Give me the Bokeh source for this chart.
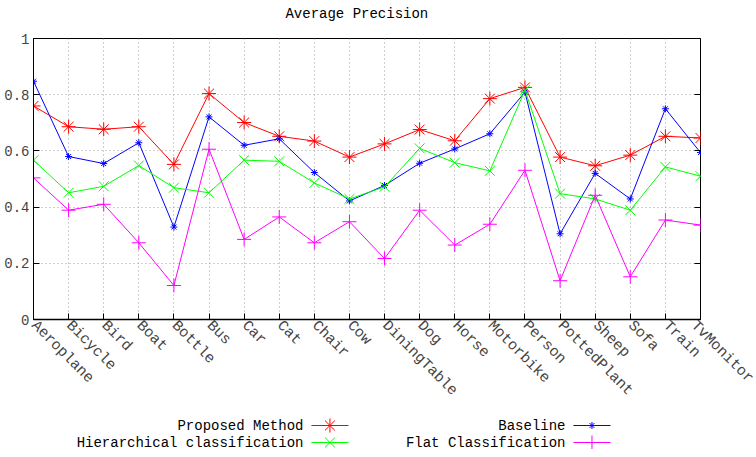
import math
from bokeh.plotting import figure
from bokeh.models import Range1d, FixedTicker, LinearAxis
from bokeh.layouts import column
from bokeh.core.properties import value
from bokeh.embed import file_html
from bokeh.resources import INLINE

categories = ["Aeroplane", "Bicycle", "Bird", "Boat", "Bottle", "Bus", "Car", "Cat",
              "Chair", "Cow", "DiningTable", "Dog", "Horse", "Motorbike", "Person",
              "PottedPlant", "Sheep", "Sofa", "Train", "TvMonitor"]
proposed = [0.760, 0.686, 0.677, 0.686, 0.552, 0.804, 0.701, 0.652, 0.635, 0.578,
            0.625, 0.676, 0.636, 0.786, 0.826, 0.578, 0.547, 0.585, 0.652, 0.646]
baseline = [0.848, 0.580, 0.555, 0.629, 0.329, 0.721, 0.620, 0.643, 0.523, 0.422,
            0.477, 0.556, 0.607, 0.661, 0.809, 0.305, 0.520, 0.429, 0.750, 0.594]
hierarchical = [0.567, 0.451, 0.474, 0.548, 0.469, 0.451, 0.567, 0.563, 0.486, 0.429,
                0.472, 0.609, 0.558, 0.529, 0.816, 0.448, 0.429, 0.389, 0.543, 0.510]
flat = [0.504, 0.389, 0.410, 0.273, 0.121, 0.606, 0.285, 0.365, 0.273, 0.348,
        0.217, 0.389, 0.265, 0.339, 0.531, 0.138, 0.442, 0.152, 0.354, 0.336]
y_ticks = [0, 0.2, 0.4, 0.6, 0.8, 1]
y_tick_labels = ["0", "0.2", "0.4", "0.6", "0.8", "1"]
title_text = "Average Precision"

FONT = "Liberation Mono"
xs = list(range(len(categories)))
W = 756
FRAME_L, FRAME_R = 33, 700

series = [
    ("Proposed Method", proposed, "#ff0000", "asterisk", 14),
    ("Baseline", baseline, "#0000ff", "asterisk", 7),
    ("Hierarchical classification", hierarchical, "#00ff00", "x", 14),
    ("Flat Classification", flat, "#ff00ff", "cross", 14),
]

# title panel
tfig = figure(width=W, height=28, output_backend="svg", toolbar_location=None,
              x_range=Range1d(0, W), y_range=Range1d(28, 0),
              min_border=0, outline_line_color=None)
tfig.axis.visible = False
tfig.grid.visible = False
tfig.text([(FRAME_L + FRAME_R) / 2], [13], text=[title_text], text_align="center",
          text_baseline="middle", text_font=value(FONT), text_font_size="14px",
          text_color="black")

p = figure(width=W, height=382, output_backend="svg", toolbar_location=None,
           x_range=Range1d(0, len(categories) - 1), y_range=Range1d(0, 1),
           min_border_left=FRAME_L, min_border_right=W - FRAME_R, min_border_top=10,
           min_border_bottom=91)

p.outline_line_color = "black"
p.outline_line_width = 1

p.xaxis.ticker = FixedTicker(ticks=xs)
p.xaxis.major_label_overrides = {i: c for i, c in enumerate(categories)}
p.xaxis.major_label_orientation = -math.pi / 4
p.xaxis.major_label_text_font = FONT
p.xaxis.major_label_text_font_size = "15px"
p.xaxis.major_tick_in = 6
p.xaxis.major_tick_out = 0
p.xaxis.minor_tick_line_color = None
p.xaxis.major_label_standoff = 4
p.xaxis.axis_line_width = 1.5

p.yaxis.ticker = FixedTicker(ticks=y_ticks)
p.yaxis.major_label_overrides = {t: l for t, l in zip(y_ticks, y_tick_labels)}
p.yaxis.major_label_text_font = FONT
p.yaxis.major_label_text_font_size = "14px"
p.yaxis.major_tick_in = 6
p.yaxis.major_tick_out = 0
p.yaxis.minor_tick_line_color = None
p.yaxis.major_label_standoff = 4

ry = LinearAxis(ticker=FixedTicker(ticks=y_ticks), major_tick_in=6, major_tick_out=0,
                minor_tick_line_color=None, axis_line_color=None,
                major_label_text_alpha=0, major_label_text_font_size="1px")
p.add_layout(ry, "right")

for g in (p.xgrid, p.ygrid):
    g.grid_line_color = "#a0a0a0"
    g.grid_line_dash = "1 3"
    g.grid_line_width = 1
p.xgrid.ticker = FixedTicker(ticks=xs)
p.ygrid.ticker = FixedTicker(ticks=y_ticks)

for name, vals, color, marker, size in series:
    p.line(xs, vals, line_color=color, line_width=1)
    p.scatter(xs, vals, marker=marker, size=size, line_color=color, line_width=1,
              fill_color=color)

# legend panel (gnuplot style: text right-aligned, sample to its right)
leg = figure(width=W, height=39, output_backend="svg", toolbar_location=None,
             x_range=Range1d(0, W), y_range=Range1d(39, 0),
             min_border=0, outline_line_color=None)
leg.axis.visible = False
leg.grid.visible = False
col_text_end = [306, 603]
row_y = [15, 32]
for k, (name, vals, color, marker, size) in enumerate(series):
    c = k % 2
    r = k // 2
    xe = col_text_end[c]
    yy = row_y[r]
    leg.text([xe], [yy], text=[name], text_align="right", text_baseline="middle",
             text_font=value(FONT), text_font_size="14px", text_color="black")
    leg.line([xe + 9, xe + 51], [yy, yy], line_color=color, line_width=1)
    leg.scatter([xe + 30], [yy], marker=marker, size=size, line_color=color,
                fill_color=color, line_width=1)

layout = column(tfig, p, leg, spacing=0)
open("out.html", "w").write(file_html(layout, INLINE))
